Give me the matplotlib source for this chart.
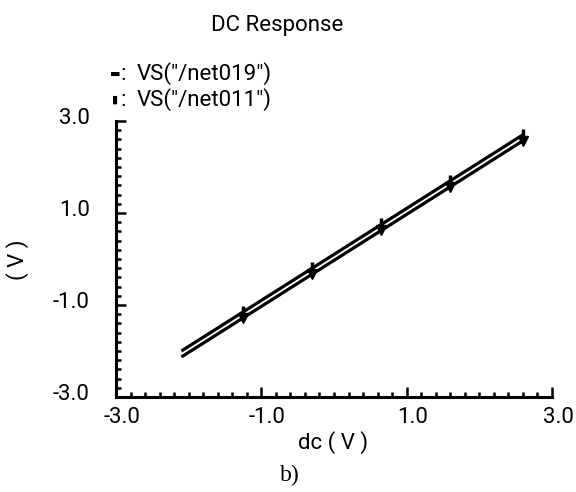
import matplotlib
matplotlib.use("Agg")
import matplotlib.pyplot as plt
import matplotlib.transforms as mtransforms
from matplotlib.ticker import MultipleLocator, FixedLocator

plt.rcParams['font.family'] = ['Roboto', 'DejaVu Sans']

# Data
dc = [-2.1, -1.25, -0.3, 0.65, 1.6, 2.6]
net019 = [-2.13, -1.28, -0.33, 0.62, 1.57, 2.57]
net011 = [-2.0, -1.15, -0.2, 0.75, 1.7, 2.7]
xticks = [-3.0, -1.0, 1.0, 3.0]
yticks = [-3.0, -1.0, 1.0, 3.0]
tick_labels = ["-3.0", "-1.0", "1.0", "3.0"]

fig = plt.figure(figsize=(5.76, 4.92), dpi=100)
ax = fig.add_axes([116/576, 1-397/492, (552-116)/576, (397-121)/492])

ax.plot(dc, net019, color='black', lw=2.3, solid_capstyle='butt')
ax.plot(dc[1:], net019[1:], linestyle='none', marker='v', color='black', ms=7)
ax.plot(dc, net011, color='black', lw=2.3, solid_capstyle='butt')
ax.plot(dc[1:], net011[1:], linestyle='none', marker='|', color='black', ms=9, mew=2.5)

ax.set_xlim(-3, 3)
ax.set_ylim(-3, 3)
ax.xaxis.set_major_locator(FixedLocator(xticks))
ax.yaxis.set_major_locator(FixedLocator(yticks))
ax.xaxis.set_minor_locator(MultipleLocator(0.2))
ax.yaxis.set_minor_locator(MultipleLocator(0.2))
ax.set_xticklabels(tick_labels)
ax.set_yticklabels(tick_labels)

for s in ['top', 'right']:
    ax.spines[s].set_visible(False)
for s in ['left', 'bottom']:
    ax.spines[s].set_linewidth(2.2)

ax.tick_params(which='both', direction='in', width=1.8, color='black')
ax.tick_params(which='major', length=7, labelsize=16)
ax.tick_params(which='minor', length=3.5)
ax.tick_params(axis='x', pad=7)
ax.tick_params(axis='y', pad=19)

dy = mtransforms.ScaledTranslation(0, 5/100, fig.dpi_scale_trans)
for lab in ax.get_yticklabels():
    lab.set_transform(lab.get_transform() + dy)
dx = mtransforms.ScaledTranslation(6/100, 0, fig.dpi_scale_trans)
for lab in ax.get_xticklabels():
    lab.set_transform(lab.get_transform() + dx)

fig.text(277/576, 1-25/492, "DC Response", ha='center', va='center', fontsize=16)
fig.text(115/576, 1-74/492, "▬", ha='center', va='center', fontsize=8)
fig.text(121/576, 1-74/492, ":", ha='left', va='center', fontsize=16)
fig.text(137/576, 1-74/492, 'VS("/net019")', ha='left', va='center', fontsize=16)
fig.text(115/576, 1-100/492, "▮", ha='center', va='center', fontsize=8)
fig.text(121/576, 1-100/492, ":", ha='left', va='center', fontsize=16)
fig.text(137/576, 1-100/492, 'VS("/net011")', ha='left', va='center', fontsize=16)

fig.text(333/576, 1-443/492, "dc ( V )", ha='center', va='center', fontsize=16)
fig.text(18/576, 1-260/492, "( V )", ha='center', va='center', fontsize=16, rotation=90)
fig.text(290/576, 1-475/492, "b)", ha='center', va='center', fontsize=17,
         family='Liberation Serif')

fig.savefig("out.png", dpi=100)
